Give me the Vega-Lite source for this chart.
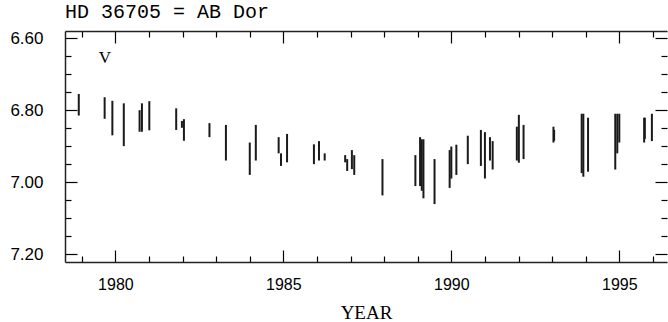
{
  "$schema": "https://vega.github.io/schema/vega-lite/v6.json",
  "width": 602,
  "height": 231,
  "autosize": {"type": "none"},
  "padding": {"left": 65, "top": 31, "right": 1, "bottom": 60},
  "background": "white",
  "config": {"view": {"stroke": null}},
  "title": {"text": "HD 36705 = AB Dor", "anchor": "start", "frame": "group", "font": "Liberation Mono", "fontSize": 20, "fontWeight": "normal", "color": "black", "baseline": "alphabetic", "offset": 13, "dy": 22},
  "layer": [
    {
      "data": {"values": [
        {"year": 1978.91, "top": 6.755, "bot": 6.815},
        {"year": 1979.68, "top": 6.764, "bot": 6.824},
        {"year": 1979.91, "top": 6.774, "bot": 6.870},
        {"year": 1980.25, "top": 6.781, "bot": 6.900},
        {"year": 1980.72, "top": 6.800, "bot": 6.860},
        {"year": 1980.79, "top": 6.781, "bot": 6.860},
        {"year": 1981.01, "top": 6.775, "bot": 6.856},
        {"year": 1981.81, "top": 6.795, "bot": 6.855},
        {"year": 1981.98, "top": 6.830, "bot": 6.849},
        {"year": 1982.04, "top": 6.825, "bot": 6.885},
        {"year": 1982.80, "top": 6.836, "bot": 6.875},
        {"year": 1983.29, "top": 6.841, "bot": 6.940},
        {"year": 1984.00, "top": 6.890, "bot": 6.980},
        {"year": 1984.18, "top": 6.841, "bot": 6.940},
        {"year": 1984.86, "top": 6.875, "bot": 6.920},
        {"year": 1984.93, "top": 6.920, "bot": 6.955},
        {"year": 1985.11, "top": 6.866, "bot": 6.945},
        {"year": 1985.91, "top": 6.895, "bot": 6.950},
        {"year": 1986.06, "top": 6.886, "bot": 6.940},
        {"year": 1986.23, "top": 6.920, "bot": 6.940},
        {"year": 1986.84, "top": 6.925, "bot": 6.945},
        {"year": 1986.90, "top": 6.936, "bot": 6.969},
        {"year": 1987.04, "top": 6.911, "bot": 6.964},
        {"year": 1987.11, "top": 6.925, "bot": 6.980},
        {"year": 1987.95, "top": 6.936, "bot": 7.037},
        {"year": 1988.93, "top": 6.925, "bot": 7.011},
        {"year": 1989.07, "top": 6.875, "bot": 7.011},
        {"year": 1989.12, "top": 6.881, "bot": 7.024},
        {"year": 1989.17, "top": 6.881, "bot": 7.045},
        {"year": 1989.50, "top": 6.936, "bot": 7.061},
        {"year": 1989.95, "top": 6.911, "bot": 7.016},
        {"year": 1990.00, "top": 6.901, "bot": 6.990},
        {"year": 1990.15, "top": 6.896, "bot": 6.980},
        {"year": 1990.49, "top": 6.871, "bot": 6.950},
        {"year": 1990.88, "top": 6.855, "bot": 6.955},
        {"year": 1991.00, "top": 6.861, "bot": 6.990},
        {"year": 1991.15, "top": 6.875, "bot": 6.940},
        {"year": 1991.23, "top": 6.886, "bot": 6.965},
        {"year": 1991.95, "top": 6.846, "bot": 6.940},
        {"year": 1992.01, "top": 6.813, "bot": 6.946},
        {"year": 1992.15, "top": 6.841, "bot": 6.936},
        {"year": 1993.04, "top": 6.846, "bot": 6.890},
        {"year": 1993.06, "top": 6.855, "bot": 6.885},
        {"year": 1993.88, "top": 6.810, "bot": 6.975},
        {"year": 1993.93, "top": 6.810, "bot": 6.985},
        {"year": 1994.07, "top": 6.821, "bot": 6.971},
        {"year": 1994.88, "top": 6.810, "bot": 6.965},
        {"year": 1994.94, "top": 6.810, "bot": 6.920},
        {"year": 1995.00, "top": 6.810, "bot": 6.890},
        {"year": 1995.74, "top": 6.821, "bot": 6.890},
        {"year": 1995.76, "top": 6.821, "bot": 6.880},
        {"year": 1995.97, "top": 6.810, "bot": 6.886}
      ]},
      "mark": {"type": "rule", "strokeWidth": 2, "color": "#1a1a1a"},
      "encoding": {
        "x": {
          "field": "year", "type": "quantitative",
          "scale": {"domain": [1978.5, 1996.42], "nice": false, "zero": false},
          "axis": {
            "orient": "bottom",
            "values": [1979, 1980, 1981, 1982, 1983, 1984, 1985, 1986, 1987, 1988, 1989, 1990, 1991, 1992, 1993, 1994, 1995, 1996],
            "format": "d",
            "labelExpr": "datum.value % 5 === 0 ? datum.label : ''",
            "tickSize": {"condition": {"test": "datum.value % 5 === 0", "value": -12}, "value": -6},
            "tickColor": "black", "tickWidth": 1.2,
            "domainColor": "#222", "domainWidth": 1.5,
            "grid": false,
            "labelFont": "Liberation Sans", "labelFontSize": 16, "labelColor": "black",
            "labelBaseline": "alphabetic", "labelPadding": 39,
            "labelOverlap": false, "labelFlush": false, "labelBound": false,
            "title": "YEAR", "titleFont": "Liberation Serif", "titleFontSize": 19, "titleFontWeight": "normal", "titleColor": "black",
            "titleBaseline": "alphabetic", "titleY": 56
          }
        },
        "y": {
          "field": "top", "type": "quantitative",
          "scale": {"domain": [6.58, 7.222], "reverse": true, "nice": false, "zero": false},
          "axis": {
            "orient": "left",
            "values": [6.6, 6.65, 6.7, 6.75, 6.8, 6.85, 6.9, 6.95, 7.0, 7.05, 7.1, 7.15, 7.2],
            "labelExpr": "abs(datum.value * 5 - round(datum.value * 5)) < 0.001 ? format(datum.value, '.2f') : ''",
            "tickSize": {"condition": {"test": "abs(datum.value * 5 - round(datum.value * 5)) < 0.001", "value": -12}, "value": -6},
            "tickColor": "black", "tickWidth": 1.2,
            "domainColor": "#222", "domainWidth": 1.5,
            "grid": false,
            "labelFont": "Liberation Sans", "labelFontSize": 17, "labelColor": "black",
            "labelBaseline": "middle", "labelPadding": 34,
            "labelOverlap": false, "labelFlush": false, "labelBound": false,
            "title": null
          }
        },
        "y2": {"field": "bot"}
      }
    },
    {
      "data": {"values": [{"year": 1979.69, "mag": 6.6695, "label": "V"}]},
      "mark": {"type": "text", "font": "Liberation Serif", "fontSize": 17, "color": "black", "align": "center", "baseline": "alphabetic"},
      "encoding": {
        "x": {
          "field": "year", "type": "quantitative",
          "axis": {
            "orient": "top",
            "values": [1979, 1980, 1981, 1982, 1983, 1984, 1985, 1986, 1987, 1988, 1989, 1990, 1991, 1992, 1993, 1994, 1995, 1996],
            "labels": false,
            "tickSize": {"condition": {"test": "datum.value % 5 === 0", "value": -12}, "value": -6},
            "tickColor": "black", "tickWidth": 1.2,
            "domainColor": "#222", "domainWidth": 1.5,
            "grid": false, "title": null
          }
        },
        "y": {
          "field": "mag", "type": "quantitative",
          "axis": {
            "orient": "right",
            "values": [6.6, 6.65, 6.7, 6.75, 6.8, 6.85, 6.9, 6.95, 7.0, 7.05, 7.1, 7.15, 7.2],
            "labels": false,
            "tickSize": {"condition": {"test": "abs(datum.value * 5 - round(datum.value * 5)) < 0.001", "value": -12}, "value": -6},
            "tickColor": "black", "tickWidth": 1.2,
            "domain": false,
            "grid": false, "title": null
          }
        },
        "text": {"field": "label"}
      }
    }
  ],
  "resolve": {"axis": {"x": "independent", "y": "independent"}}
}
